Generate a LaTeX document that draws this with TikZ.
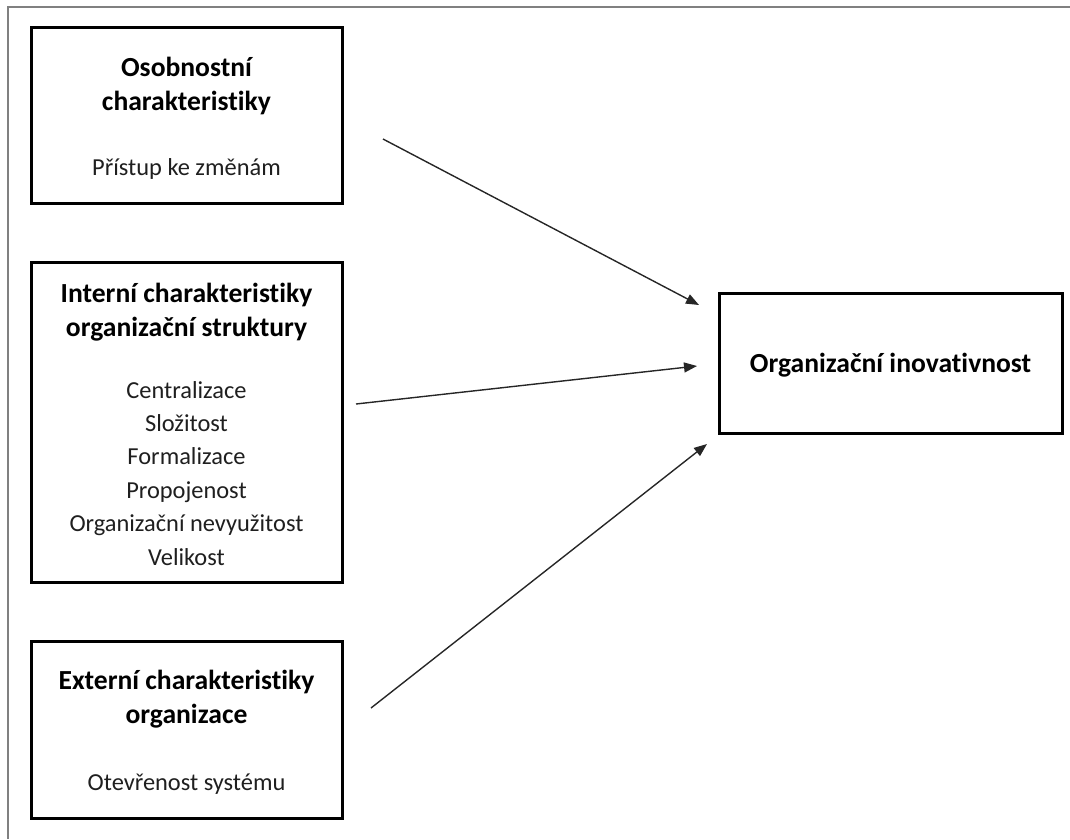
\documentclass[tikz,border=0pt]{standalone}
\usepackage{fontspec}
\setmainfont{Carlito}[Ligatures=NoCommon]
\usetikzlibrary{arrows.meta}

\tikzset{
  framebox/.style={draw=black, line width=3pt, fill=white, inner sep=0pt},
  ttl/.style={anchor=base, inner sep=0pt, text=black,
    font=\fontsize{27.6}{34}\selectfont\bfseries},
  itm/.style={anchor=base, inner sep=0pt, text=black!88,
    font=\fontsize{24.4}{33.4}\selectfont},
  link/.style={draw=black!85, line width=1.4pt,
    -{Triangle[length=13pt, width=10pt]}},
  pageedge/.style={draw=black!50, line width=2pt}
}

\begin{document}
\begin{tikzpicture}[x=1pt, y=-1pt]
  \useasboundingbox (0,0) rectangle (1070,839);

  % page edge of the figure
  \draw[pageedge] (8,839) -- (8,7) -- (1070,7);

  % the four boxes
  \node[framebox, minimum width=311pt, minimum height=176pt] (pers) at (186.5,115) {};
  \node[framebox, minimum width=311pt, minimum height=320pt] (intern) at (186.5,422) {};
  \node[framebox, minimum width=311pt, minimum height=177pt] (extern) at (186.5,729.5) {};
  \node[framebox, minimum width=343pt, minimum height=140pt] (innov) at (890.5,363) {};

  % personal characteristics
  \node[ttl] (p1) at (186.5,76) {Osobnostní};
  \node[ttl] (p2) at (186.5,110) {charakteristiky};
  \node[itm] (p3) at (186.5,175) {Přístup ke změnám};

  % internal characteristics of the organisational structure
  \node[ttl] (i1) at (186.5,302) {Interní charakteristiky};
  \node[ttl] (i2) at (186.5,336) {organizační struktury};
  \node[itm] (i3) at (186.5,398) {Centralizace};
  \node[itm] (i4) at (186.5,431.4) {Složitost};
  \node[itm] (i5) at (186.5,464.8) {Formalizace};
  \node[itm] (i6) at (186.5,498.2) {Propojenost};
  \node[itm] (i7) at (186.5,531.6) {Organizační nevyužitost};
  \node[itm] (i8) at (186.5,565) {Velikost};

  % external characteristics
  \node[ttl] (e1) at (186.5,689) {Externí charakteristiky};
  \node[ttl] (e2) at (186.5,723) {organizace};
  \node[itm] (e3) at (186.5,790) {Otevřenost systému};

  % outcome
  \node[ttl] (o1) at (890.5,372) {Organizační inovativnost};

  % arrow end points
  \coordinate (a1s) at (383,139);
  \coordinate (a1e) at (699,305);
  \coordinate (a2s) at (356,404);
  \coordinate (a2e) at (697,366);
  \coordinate (a3s) at (371,708);
  \coordinate (a3e) at (707,444);

  \draw[link] (a1s) -- (a1e);
  \draw[link] (a2s) -- (a2e);
  \draw[link] (a3s) -- (a3e);
\end{tikzpicture}
\end{document}
